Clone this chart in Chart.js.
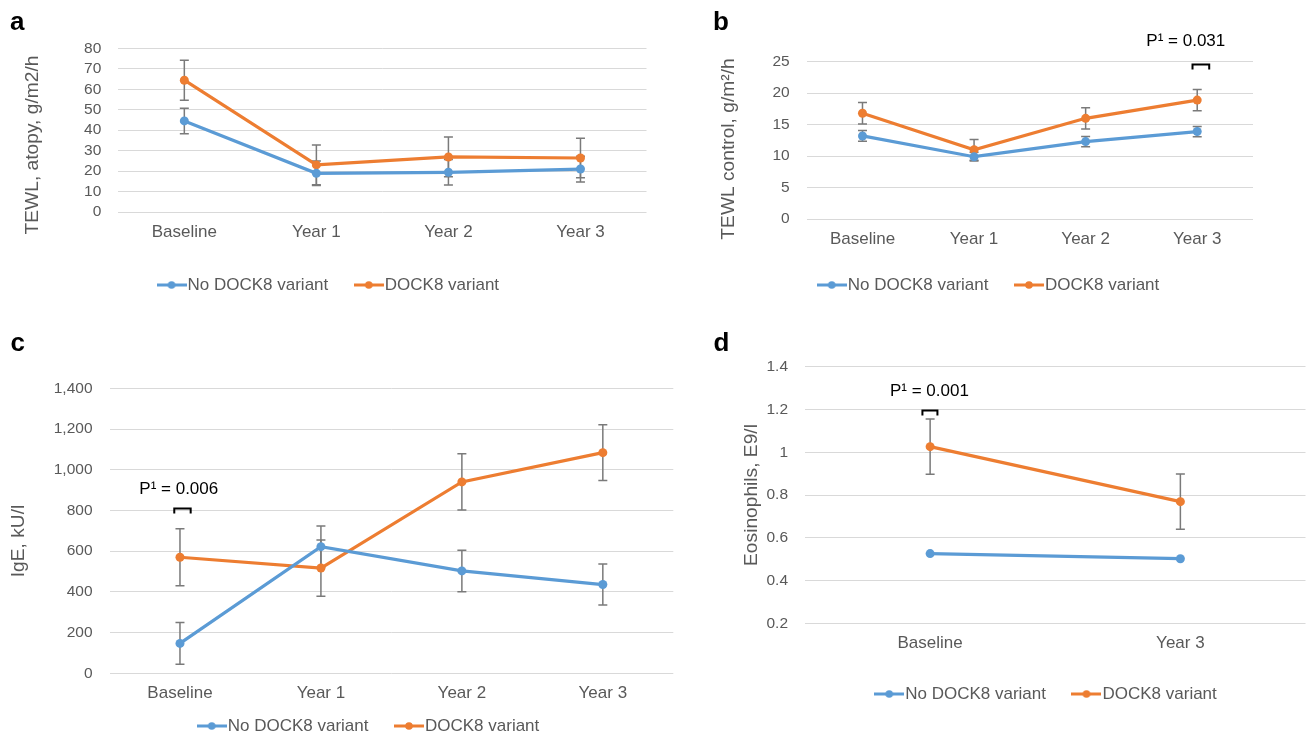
<!DOCTYPE html>
<html>
<head>
<meta charset="utf-8">
<title>DOCK8 variant – TEWL, IgE and eosinophils</title>
<script src="https://cdn.jsdelivr.net/npm/chart.js@4.4.1/dist/chart.umd.min.js"></script>
<style>
  html, body { margin: 0; padding: 0; background: #fff; overflow: hidden; }
  body { width: 1310px; height: 736px; position: relative; }
  .panel { position: absolute; }
</style>
</head>
<body>
<div class="panel" style="left:0;top:0;width:660px;height:312px"><canvas id="chartA"></canvas></div>
<div class="panel" style="left:700px;top:0;width:610px;height:319px"><canvas id="chartB"></canvas></div>
<div class="panel" style="left:0;top:320px;width:690px;height:453.3px"><canvas id="chartC"></canvas></div>
<div class="panel" style="left:700px;top:320px;width:610px;height:403.3px"><canvas id="chartD"></canvas></div>

<script>
// Categories
const visits4 = ["Baseline", "Year 1", "Year 2", "Year 3"]
const visits2 = ["Baseline", "Year 3"]
const groupNames = ["No DOCK8 variant", "DOCK8 variant"]

// a - TEWL, atopy (g/m2/h)
const atopyNoVariant = [44.5, 18.9, 19.4, 21.0]
const atopyNoVariantErr = [6.2, 6.0, 6.2, 6.3]
const atopyVariant = [64.4, 23.0, 26.9, 26.4]
const atopyVariantErr = [9.8, 9.7, 9.7, 9.7]
const atopyTicks = [0, 80, 10] // min, max, step

// b - TEWL, control skin
const controlNoVariant = [13.2, 9.9, 12.3, 13.9]
const controlNoVariantErr = [0.85, 0.7, 0.82, 0.82]
const controlVariant = [16.8, 11.0, 16.0, 18.9]
const controlVariantErr = [1.7, 1.65, 1.7, 1.7]
const controlTicks = [0, 25, 5]

// c - IgE (kU/l)
const igeNoVariant = [147, 622, 503, 436]
const igeNoVariantErr = [102, 102, 102, 101]
const igeVariant = [570, 517, 940, 1084]
const igeVariantErr = [140, 138, 138, 137]
const igeTicks = [0, 1400, 200]

// d - Eosinophils (E9/l)
const eosNoVariant = [0.526, 0.502]
const eosVariant = [1.026, 0.769]
const eosVariantErr = [0.129, 0.129]
const eosTicks = [0.2, 1.4, 0.2]

const BLUE = "#5B9BD5"
const ORANGE = "#ED7D31"
const GREY = "#595959"
const FONT = "'Liberation Sans', Arial, Helvetica, sans-serif"
const LEGEND_PAD = 33

Chart.defaults.font.family = FONT
Chart.defaults.color = GREY

// legend marker: line with a dot, like the Excel legend key
function legendMark(color) {
  const c = document.createElement("canvas")
  c.width = 30
  c.height = 10
  const g = c.getContext("2d")
  g.strokeStyle = color
  g.lineWidth = 3
  g.beginPath()
  g.moveTo(0, 5)
  g.lineTo(30, 5)
  g.stroke()
  g.fillStyle = color
  g.beginPath()
  g.arc(15, 5, 3.8, 0, Math.PI * 2)
  g.fill()
  return c
}
const marks = [legendMark(BLUE), legendMark(ORANGE)]

// error bars drawn behind the lines
const errorBars = {
  id: "errorBars",
  beforeDatasetsDraw(chart) {
    const { ctx } = chart
    const ys = chart.scales.y
    ctx.save()
    ctx.strokeStyle = "#7a7a7a"
    ctx.lineWidth = 1.5
    chart.data.datasets.forEach((ds, i) => {
      if (!ds.errors) return
      chart.getDatasetMeta(i).data.forEach((pt, j) => {
        const e = ds.errors[j]
        const top = ys.getPixelForValue(ds.data[j] + e)
        const bot = ys.getPixelForValue(ds.data[j] - e)
        ctx.beginPath()
        ctx.moveTo(pt.x, top)
        ctx.lineTo(pt.x, bot)
        ctx.moveTo(pt.x - 4.5, top)
        ctx.lineTo(pt.x + 4.5, top)
        ctx.moveTo(pt.x - 4.5, bot)
        ctx.lineTo(pt.x + 4.5, bot)
        ctx.stroke()
      })
    })
    ctx.restore()
  },
}

// panel letter, axis title, P-value note; also moves the legend into place
const panelText = {
  id: "panelText",
  afterLayout(chart, args, o) {
    const lg = chart.legend
    if (!lg || !o.legendAt) return
    const dx = o.legendAt[0] - ((lg.left + lg.right) / 2 - 3.75)
    const dy = o.legendAt[1] - (lg.top + LEGEND_PAD + 8.5)
    lg.left += dx
    lg.right += dx
    lg.top += dy
    lg.bottom += dy
  },
  afterDraw(chart, args, o) {
    const { ctx } = chart
    ctx.save()
    ctx.fillStyle = "#000"
    ctx.font = "bold 26px " + FONT
    ctx.textAlign = "left"
    ctx.textBaseline = "alphabetic"
    ctx.fillText(o.letter, o.letterX, o.letterY)

    ctx.save()
    ctx.translate(o.titleX, o.titleY)
    ctx.rotate(-Math.PI / 2)
    ctx.font = "19.2px " + FONT
    ctx.fillStyle = GREY
    ctx.textAlign = "center"
    ctx.textBaseline = "middle"
    ctx.fillText(o.title, 0, 0)
    ctx.restore()

    if (o.note) {
      const n = o.note
      const xs = chart.scales.x
      const ys = chart.scales.y
      const cx = xs.getPixelForValue(n.index)
      ctx.fillStyle = "#000"
      ctx.font = "17px " + FONT
      ctx.textAlign = "center"
      ctx.textBaseline = "middle"
      ctx.fillText(n.text, cx + n.textDx, ys.getPixelForValue(n.textAt))
      const by = Math.round(ys.getPixelForValue(n.bracketAt)) + 0.5
      ctx.strokeStyle = "#000"
      ctx.lineWidth = 2
      ctx.beginPath()
      ctx.moveTo(cx + n.bracket[0], by + 5)
      ctx.lineTo(cx + n.bracket[0], by)
      ctx.lineTo(cx + n.bracket[1], by)
      ctx.lineTo(cx + n.bracket[1], by + 5)
      ctx.stroke()
    }
    ctx.restore()
  },
}

function series(label, color, data, errors) {
  return {
    label: label,
    data: data,
    errors: errors,
    borderColor: color,
    backgroundColor: color,
    pointBackgroundColor: color,
    pointBorderColor: color,
    borderWidth: 3.2,
    pointRadius: 4.5,
    pointBorderWidth: 0,
    pointHoverRadius: 4.5,
    tension: 0,
  }
}

function makePanel(id, labels, datasets, ticks, fmt, geo, text) {
  new Chart(document.getElementById(id), {
    type: "line",
    data: { labels: labels, datasets: datasets },
    plugins: [errorBars, panelText],
    options: {
      responsive: true,
      maintainAspectRatio: false,
      animation: false,
      events: [],
      layout: { padding: { left: 0, right: geo.right, top: geo.top, bottom: 0 } },
      plugins: {
        tooltip: { enabled: false },
        legend: {
          position: "bottom",
          labels: {
            usePointStyle: true,
            pointStyleWidth: 15,
            padding: LEGEND_PAD,
            color: GREY,
            font: { size: 17 },
            generateLabels(chart) {
              const items = Chart.defaults.plugins.legend.labels.generateLabels(chart)
              items.forEach((it, i) => { it.pointStyle = marks[i] })
              return items
            },
          },
        },
        panelText: text,
      },
      scales: {
        x: {
          offset: true,
          grid: { display: false, drawTicks: false },
          border: { display: false },
          ticks: { color: GREY, font: { size: 17 }, padding: 10 },
          afterFit(s) { s.height = 40 },
        },
        y: {
          min: ticks[0],
          max: ticks[1],
          grid: { color: "#D9D9D9", lineWidth: 1, drawTicks: false },
          border: { display: false },
          ticks: {
            stepSize: ticks[2],
            autoSkip: false,
            color: GREY,
            font: { size: 15.5 },
            padding: 17,
            callback: fmt,
          },
          afterFit(s) { s.width = geo.left },
        },
      },
    },
  })
}

const plain = (v) => String(Number(v.toFixed(2)))
const thousands = (v) => Number(v).toLocaleString("en-US")

makePanel("chartA", visits4,
  [series(groupNames[0], BLUE, atopyNoVariant, atopyNoVariantErr),
   series(groupNames[1], ORANGE, atopyVariant, atopyVariantErr)],
  atopyTicks, plain,
  { left: 118.3, right: 13.5, top: 48.3 },
  { letter: "a", letterX: 10, letterY: 30, title: "TEWL, atopy, g/m2/h", titleX: 33, titleY: 145,
    legendAt: [327.8, 285] })

makePanel("chartB", visits4,
  [series(groupNames[0], BLUE, controlNoVariant, controlNoVariantErr),
   series(groupNames[1], ORANGE, controlVariant, controlVariantErr)],
  controlTicks, plain,
  { left: 106.7, right: 57, top: 61.7 },
  { letter: "b", letterX: 13, letterY: 30, title: "TEWL control, g/m\u00b2/h", titleX: 29, titleY: 149,
    legendAt: [288, 285],
    note: { index: 3, text: "P\u00b9 = 0.031", textDx: -11.4, textAt: 28.2, bracket: [-4.7, 12], bracketAt: 24.6 } })

makePanel("chartC", visits4,
  [series(groupNames[0], BLUE, igeNoVariant, igeNoVariantErr),
   series(groupNames[1], ORANGE, igeVariant, igeVariantErr)],
  igeTicks, thousands,
  { left: 109.5, right: 16.7, top: 68.3 },
  { letter: "c", letterX: 10.5, letterY: 30.7, title: "IgE, kU/l", titleX: 19, titleY: 221,
    legendAt: [368, 406],
    note: { index: 0, text: "P\u00b9 = 0.006", textDx: -1.2, textAt: 904, bracket: [-5.7, 10.7], bracketAt: 810 } })

makePanel("chartD", visits2,
  [series(groupNames[0], BLUE, eosNoVariant, null),
   series(groupNames[1], ORANGE, eosVariant, eosVariantErr)],
  eosTicks, plain,
  { left: 105, right: 1.6, top: 46.7 },
  { letter: "d", letterX: 13.6, letterY: 31, title: "Eosinophils, E9/l", titleX: 51.7, titleY: 175,
    legendAt: [345.5, 374],
    note: { index: 0, text: "P\u00b9 = 0.001", textDx: -0.7, textAt: 1.286, bracket: [-7.7, 7.3], bracketAt: 1.197 } })
</script>
</body>
</html>
